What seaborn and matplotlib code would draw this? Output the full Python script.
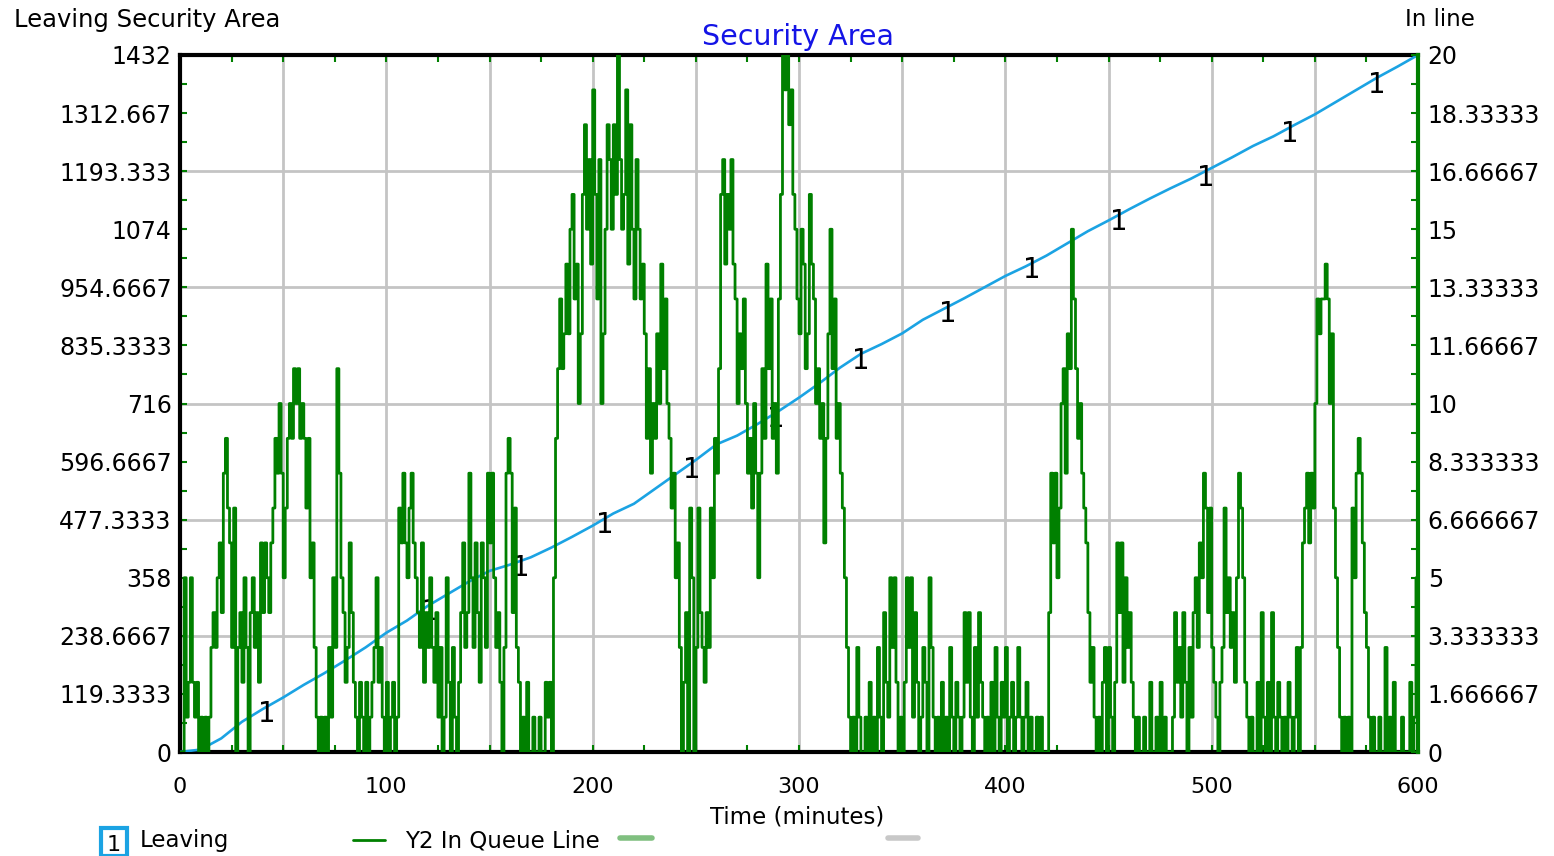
import numpy as np
import seaborn as sns
import matplotlib.pyplot as plt
from matplotlib.lines import Line2D
from matplotlib.patches import Rectangle

# === data ===
# "Leaving" (left axis), one reading every 10 minutes
leave_t = np.arange(0, 601, 10)
leaving = [0, 5, 28, 62, 88, 112, 138, 162, 188, 215,
           245, 270, 300, 325, 350, 372, 385, 400, 420, 442,
           465, 490, 510, 540, 570, 600, 632, 650, 674, 700,
           728, 758, 790, 818, 838, 860, 888, 910, 932, 955,
           978, 998, 1020, 1045, 1070, 1092, 1115, 1137, 1158, 1178,
           1200, 1222, 1245, 1265, 1288, 1310, 1335, 1360, 1385, 1408,
           1432]

# "In Queue Line" (right axis), one reading per minute, 0..600
queue = (
    [0, 0, 5, 1, 2, 5, 2, 1, 2, 0, 1, 0, 1, 0, 1, 3, 4, 3, 5, 6, 4, 8, 9, 7, 6,
     3, 7, 0, 3, 4, 2, 5, 3, 0, 4, 5, 3, 4, 2, 6, 4, 6, 5, 4, 6, 7, 9, 8, 10, 8]
    + [5, 7, 9, 10, 9, 11, 10, 11, 9, 10, 9, 7, 9, 5, 6, 3, 1, 0, 1, 0, 1, 0, 3, 1, 5,
       3, 11, 8, 5, 4, 2, 3, 6, 4, 2, 1, 0, 2, 1, 0, 2, 0, 1, 2, 3, 5, 2, 3, 1, 0]
    + [2, 0, 1, 2, 0, 1, 7, 6, 8, 6, 5, 7, 8, 6, 5, 4, 3, 6, 2, 4, 3, 5, 3, 2, 4,
       1, 3, 0, 1, 5, 2, 0, 3, 1, 0, 2, 4, 6, 3, 4, 8, 5, 3, 6, 4, 2, 6, 5, 3, 8]
    + [6, 8, 5, 3, 4, 2, 0, 3, 8, 9, 8, 4, 7, 3, 2, 0, 1, 0, 2, 0, 0, 1, 0, 0, 1,
       0, 0, 2, 1, 2, 0, 5, 9, 11, 13, 11, 12, 14, 12, 15, 16, 13, 14, 10, 12, 16, 18, 15, 17, 14]
    + [19, 16, 13, 17, 10, 12, 15, 18, 17, 15, 18, 16, 20, 17, 15, 16, 19, 14, 18, 15, 13, 17, 15, 13, 14,
       12, 9, 11, 8, 10, 9, 12, 10, 14, 11, 13, 10, 9, 7, 8, 5, 6, 3, 0, 2, 4, 0, 7, 5, 0]
    + [3, 7, 4, 3, 2, 4, 3, 7, 5, 9, 8, 11, 16, 17, 14, 16, 15, 17, 14, 13, 10, 12, 11, 13, 10,
       8, 9, 7, 10, 8, 5, 8, 11, 9, 14, 11, 13, 9, 10, 8, 13, 16, 20, 19, 20, 18, 19, 16, 15, 13]
    + [12, 15, 14, 11, 12, 16, 14, 13, 10, 11, 9, 10, 6, 9, 12, 15, 11, 13, 9, 10, 8, 7, 5, 3, 1,
       0, 1, 0, 3, 1, 0, 0, 1, 0, 2, 0, 1, 0, 3, 1, 0, 4, 2, 1, 5, 3, 5, 2, 0, 1]
    + [0, 2, 5, 3, 5, 1, 4, 2, 0, 1, 3, 2, 0, 5, 3, 1, 0, 1, 0, 2, 0, 1, 0, 3, 1,
       0, 2, 1, 0, 1, 4, 2, 4, 1, 0, 3, 1, 4, 2, 1, 0, 1, 0, 2, 0, 3, 1, 0, 2, 1]
    + [3, 0, 1, 2, 0, 1, 3, 1, 0, 1, 2, 0, 1, 0, 0, 1, 0, 1, 0, 0, 0, 4, 8, 6, 8,
       5, 7, 10, 11, 8, 12, 11, 15, 13, 11, 9, 10, 8, 7, 6, 4, 2, 3, 1, 0, 1, 0, 2, 3, 0]
    + [3, 1, 0, 2, 6, 4, 6, 2, 5, 3, 4, 2, 1, 0, 1, 0, 0, 1, 0, 0, 2, 0, 0, 1, 0,
       2, 0, 1, 0, 0, 0, 1, 4, 2, 3, 1, 4, 2, 0, 3, 1, 4, 5, 3, 6, 5, 8, 7, 4, 7]
    + [3, 2, 1, 0, 2, 3, 7, 4, 5, 3, 4, 2, 5, 8, 7, 5, 2, 1, 0, 1, 0, 0, 2, 0, 4,
       1, 0, 2, 0, 4, 1, 0, 2, 1, 0, 1, 0, 2, 1, 0, 1, 3, 0, 3, 6, 7, 8, 6, 8, 7]
    + [10, 13, 12, 13, 13, 14, 13, 10, 12, 7, 5, 3, 1, 0, 1, 0, 1, 0, 7, 5, 8, 9, 8, 6, 4,
       3, 1, 0, 1, 0, 0, 1, 0, 0, 3, 0, 1, 0, 2, 0, 0, 0, 1, 0, 0, 0, 2, 0, 1, 5, 5]
)
time = np.arange(len(queue))

# where Vensim puts its "1" markers on the Leaving line
marker_t = [42, 121, 165, 206, 248, 289, 330, 372, 413, 455, 497, 538, 580]

left_max, right_max = 1432, 20
left_ticks = np.linspace(0, left_max, 13)
right_ticks = np.linspace(0, right_max, 13)

BLUE = '#1ba3e3'
GREEN = '#008000'
GRID = '#c4c4c4'

sns.set_style("white")
plt.rcParams['font.family'] = ['DejaVu Sans']
plt.rcParams['text.color'] = 'black'

W, H = 1554, 856
fig = plt.figure(figsize=(W / 100, H / 100), dpi=100)
ax = fig.add_axes([180 / W, 1 - 752 / H, 1238 / W, 697 / H])
ax2 = ax.twinx()

sns.lineplot(x=leave_t, y=leaving, ax=ax, color=BLUE, lw=1.9, estimator=None, zorder=3)
sns.lineplot(x=time, y=queue, ax=ax2, color=GREEN, lw=2.0, estimator=None,
             drawstyle='steps-post')

for t, v in zip(marker_t, np.interp(marker_t, leave_t, leaving)):
    ax.annotate('1', (t, v), xytext=(0, -5), textcoords='offset points',
                ha='center', va='center', fontsize=20, color='black', zorder=5)

ax.set_xlim(0, 600)
ax.set_ylim(0, left_max)
ax2.set_ylim(0, right_max)
for a in (ax, ax2):
    a.set_xlabel('')
    a.set_ylabel('')

# x axis: grid every 50, labels every 100, ticks every 25
xt = np.arange(0, 601, 50)
ax.set_xticks(xt)
ax.set_xticklabels([str(v) if v % 100 == 0 else '' for v in xt])
ax.set_xticks(np.arange(0, 601, 25), minor=True)
ax.grid(axis='x', color=GRID, lw=2)
ax.set_axisbelow(True)
for yv in left_ticks[2:-1:2]:
    ax.axhline(yv, color=GRID, lw=2, zorder=0.5)

ax.set_yticks(left_ticks)
ax.set_yticklabels(['%.7g' % v for v in left_ticks])
ax.set_yticks(np.linspace(0, left_max, 25), minor=True)
ax2.set_yticks(right_ticks)
ax2.set_yticklabels(['%.7g' % v for v in right_ticks])
ax2.set_yticks(np.linspace(0, right_max, 25), minor=True)

ax.tick_params(axis='x', which='both', direction='in', color=GREEN, length=5,
               width=1.5, top=True, bottom=True, labelsize=16, pad=18,
               labelcolor='black')
ax.tick_params(axis='y', which='both', direction='in', color=GREEN, length=5,
               width=1.5, labelsize=17, pad=6, labelcolor='black')
ax2.tick_params(axis='y', which='both', direction='in', color=GREEN, length=5,
                width=1.5, labelsize=17, pad=7, labelcolor='black')

for s in ('left', 'top', 'bottom'):
    ax.spines[s].set_color('black')
    ax.spines[s].set_linewidth(3)
    ax2.spines[s].set_visible(False)
ax.spines['right'].set_visible(False)
ax2.spines['right'].set_color(GREEN)
ax2.spines['right'].set_linewidth(3)

# titles
fig.text(798 / W, 1 - 37 / H, 'Security Area', color='#1414e6', fontsize=20.5,
         ha='center', va='center')
fig.text(14 / W, 1 - 20 / H, 'Leaving Security Area', fontsize=17.5,
         ha='left', va='center')
fig.text(1475 / W, 1 - 20 / H, 'In line', fontsize=16.5, ha='right', va='center')
fig.text(797 / W, 1 - 817 / H, 'Time (minutes)', fontsize=16.5, ha='center', va='center')

# legend row
fig.add_artist(Rectangle((101 / W, 0), 26 / W, 28 / H, transform=fig.transFigure,
                         facecolor='white', edgecolor=BLUE, lw=3))
fig.text(114 / W, 1 - 845 / H, '1', fontsize=16, ha='center', va='center')
fig.text(140 / W, 1 - 841 / H, 'Leaving', fontsize=16.5, ha='left', va='center')
fig.add_artist(Line2D([353 / W, 385 / W], [1 - 840 / H] * 2, transform=fig.transFigure,
                      color=GREEN, lw=2))
fig.text(405 / W, 1 - 841 / H, 'Y2 In Queue Line', fontsize=16.5, ha='left', va='center')
fig.add_artist(Line2D([620 / W, 652 / W], [1 - 838 / H] * 2, transform=fig.transFigure,
                      color='#80c080', lw=4))
fig.add_artist(Line2D([888 / W, 918 / W], [1 - 838 / H] * 2, transform=fig.transFigure,
                      color='#c8c8c8', lw=4))

fig.savefig('out.png', dpi=100)
